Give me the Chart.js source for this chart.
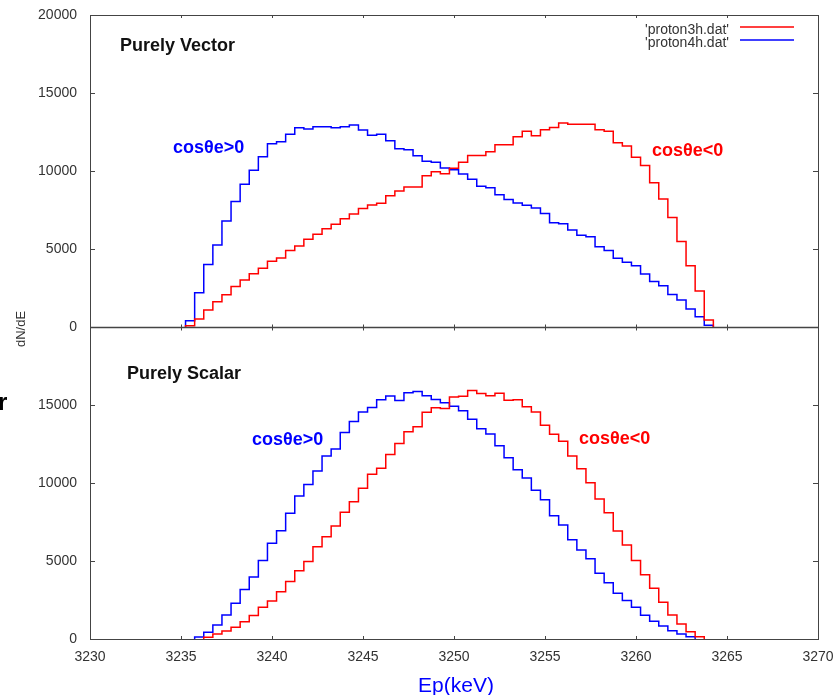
<!DOCTYPE html>
<html>
<head>
<meta charset="utf-8">
<script src="https://cdn.jsdelivr.net/npm/chart.js@4.4.0/dist/chart.umd.min.js"></script>
<style>
  html, body { margin: 0; padding: 0; background: #fff; }
  #wrap { position: relative; width: 838px; height: 695px; }
</style>
</head>
<body>
<div id="wrap"><canvas id="histChart" width="838" height="695"></canvas></div>
<script>
// histogram bins: left edge of first bin and width (keV)
const binStart = 3235.25;
const binWidth = 0.5;

const xTicks = [3230, 3235, 3240, 3245, 3250, 3255, 3260, 3265, 3270];
const yTicks = [0, 5000, 10000, 15000, 20000];

// top panel, "Purely Vector"
const vectorPos = [400, 2200, 4000, 5250, 6800, 8050, 9150, 10050, 10920, 11750,
  11880, 12350, 12780, 12690, 12840, 12840, 12780, 12840, 12950, 12630,
  12290, 12350, 11940, 11430, 11370, 10980, 10620, 10560, 10190, 10080,
  9800, 9470, 9020, 8930, 8480, 8180, 7950, 7800, 7630, 7270,
  6690, 6620, 6220, 5880, 5790, 5150, 4910, 4400, 4150, 3930,
  3400, 2910, 2650, 2090, 1730, 1150, 660, 110];
const vectorNeg = [80, 510, 1090, 1620, 2070, 2590, 3010, 3420, 3760, 4210,
  4420, 4910, 5190, 5620, 5940, 6300, 6580, 6940, 7240, 7590,
  7820, 7930, 8420, 8720, 8980, 8980, 9690, 9950, 9830, 10170,
  10560, 11000, 11000, 11230, 11690, 11690, 12200, 12550, 12260, 12640,
  12790, 13080, 13000, 13000, 13000, 12650, 12550, 11810, 11600, 10880,
  10350, 9240, 8200, 7020, 5480, 3930, 2300, 450];

// bottom panel, "Purely Scalar"
const scalarPos = [0, 130, 430, 900, 1540, 2290, 3180, 3970, 5040, 6130,
  6940, 8060, 9170, 9910, 10770, 11730, 12180, 13230, 13950, 14550,
  14840, 15340, 15580, 15290, 15790, 15870, 15590, 15350, 15150, 14920,
  14630, 14090, 13470, 13140, 12390, 11620, 10850, 10320, 9530, 8930,
  7900, 7310, 6370, 5700, 5150, 4210, 3610, 2930, 2460, 2030,
  1520, 1130, 830, 530, 320, 150, 0, 0];
const scalarNeg = [0, 0, 110, 320, 510, 750, 1110, 1500, 2030, 2440,
  3030, 3680, 4380, 4960, 5920, 6560, 7240, 8120, 8800, 9660,
  10560, 10940, 11820, 12540, 13290, 13600, 14530, 14830, 14780, 15520,
  15560, 15930, 15740, 15600, 15750, 15300, 15340, 14890, 14550, 13700,
  13120, 12670, 11730, 10920, 10020, 8970, 8100, 6920, 6030, 5040,
  4120, 3250, 2350, 1540, 960, 470, 150, 0];

const RED = '#ff0000';
const BLUE = '#0000ff';
const FONT = 'Liberation Sans, Arial, sans-serif';

// turn bin contents into points for a stepped line
function stepPoints(values) {
    const first = values.findIndex(v => v > 0);
    let last = values.length - 1;
    while (last > first && values[last] === 0) last--;
    const pts = [{ x: binStart + first * binWidth, y: 0 }];
    for (let i = first; i <= last; i++) {
        pts.push({ x: binStart + i * binWidth, y: values[i] });
    }
    pts.push({ x: binStart + (last + 1) * binWidth, y: 0 });
    return pts;
}

function histSet(label, values, color, axis) {
    return {
        label, data: stepPoints(values), yAxisID: axis,
        borderColor: color, borderWidth: 1.5, stepped: 'before',
        pointRadius: 0, fill: false
    };
}

function noPadding(s) {
    s.paddingTop = 0; s.paddingBottom = 0;
    s.paddingLeft = 0; s.paddingRight = 0;
}

function yScale(hideTop) {
    return {
        type: 'linear', position: 'left', stack: 'panels', stackWeight: 1,
        min: 0, max: 20000,
        afterBuildTicks: s => { s.ticks = yTicks.map(v => ({ value: v })); },
        afterFit: s => { s.width = 90; noPadding(s); },
        grid: { display: false, drawTicks: false },
        border: { display: false },
        ticks: {
            padding: 13, color: '#333', font: { family: FONT, size: 14 },
            callback: v => (hideTop && v === 20000) ? null : String(v)
        }
    };
}

// frame, mirrored ticks and the text labels
const decorations = {
    id: 'decorations',
    afterDraw(chart) {
        const { ctx, chartArea: a, scales } = chart;
        const x = scales.x, yv = scales.yVector, ys = scales.yScalar;
        const mid = Math.round(yv.bottom) + 0.5;
        ctx.save();
        ctx.strokeStyle = '#444';
        ctx.lineWidth = 1;
        ctx.strokeRect(Math.round(a.left) + 0.5, Math.round(a.top) + 0.5,
            Math.round(a.right - a.left), Math.round(a.bottom - a.top));
        ctx.lineWidth = 1.3;
        ctx.beginPath();
        ctx.moveTo(a.left, mid); ctx.lineTo(a.right, mid);
        ctx.stroke();
        ctx.lineWidth = 1;
        ctx.beginPath();
        for (const sc of [yv, ys]) {
            for (const v of yTicks) {
                const py = Math.round(sc.getPixelForValue(v)) + 0.5;
                ctx.moveTo(a.left, py); ctx.lineTo(a.left + 5, py);
                ctx.moveTo(a.right, py); ctx.lineTo(a.right - 5, py);
            }
        }
        for (const v of xTicks) {
            const px = Math.round(x.getPixelForValue(v)) + 0.5;
            ctx.moveTo(px, a.top); ctx.lineTo(px, a.top + 3);
            ctx.moveTo(px, mid - 3); ctx.lineTo(px, mid + 3);
            ctx.moveTo(px, a.bottom); ctx.lineTo(px, a.bottom - 3);
        }
        ctx.stroke();

        // panel titles
        ctx.fillStyle = '#111';
        ctx.textBaseline = 'alphabetic';
        ctx.textAlign = 'left';
        ctx.font = 'bold 18px ' + FONT;
        ctx.fillText('Purely Vector', 120, 51);
        ctx.fillText('Purely Scalar', 127, 379);

        ctx.font = 'bold 18px ' + FONT;
        ctx.fillStyle = BLUE;
        ctx.fillText('cosθe>0', 173, 153);
        ctx.fillText('cosθe>0', 252, 445);
        ctx.fillStyle = RED;
        ctx.fillText('cosθe<0', 652, 156);
        ctx.fillText('cosθe<0', 579, 444);

        // legend
        ctx.font = '14px ' + FONT;
        ctx.fillStyle = '#333';
        ctx.textAlign = 'right';
        ctx.textBaseline = 'middle';
        const legend = [["'proton3h.dat'", RED, 27], ["'proton4h.dat'", BLUE, 40]];
        for (const [txt, col, ly] of legend) {
            ctx.fillText(txt, 729, ly + 3);
            ctx.strokeStyle = col;
            ctx.lineWidth = 1.3;
            ctx.beginPath();
            ctx.moveTo(740, ly); ctx.lineTo(794, ly);
            ctx.stroke();
        }

        // axis titles
        ctx.fillStyle = BLUE;
        ctx.textAlign = 'center';
        ctx.textBaseline = 'alphabetic';
        ctx.font = '21px ' + FONT;
        ctx.fillText('Ep(keV)', 456, 692);

        ctx.fillStyle = '#333';
        ctx.font = '13px ' + FONT;
        ctx.translate(21, 329);
        ctx.rotate(-Math.PI / 2);
        ctx.textBaseline = 'middle';
        ctx.fillText('dN/dE', 0, 0);
        ctx.restore();

        // leftover letter at the image edge
        ctx.save();
        ctx.fillStyle = '#000';
        ctx.font = 'bold 24px ' + FONT;
        ctx.fillText('r', -2, 410);
        ctx.restore();
    }
};

function drawChart() {
    const ctx = document.getElementById('histChart').getContext('2d');
    new Chart(ctx, {
        type: 'line',
        data: {
            datasets: [
                histSet("'proton3h.dat'", vectorNeg, RED, 'yVector'),
                histSet("'proton4h.dat'", vectorPos, BLUE, 'yVector'),
                histSet("'proton3h.dat'", scalarNeg, RED, 'yScalar'),
                histSet("'proton4h.dat'", scalarPos, BLUE, 'yScalar')
            ]
        },
        options: {
            responsive: false,
            devicePixelRatio: 1,
            animation: false,
            layout: { padding: { top: 15, right: 20, left: 0, bottom: 0 } },
            plugins: { legend: { display: false }, tooltip: { enabled: false } },
            scales: {
                x: {
                    type: 'linear', position: 'bottom', min: 3230, max: 3270,
                    afterBuildTicks: s => { s.ticks = xTicks.map(v => ({ value: v })); },
                    afterFit: s => { s.height = 56; noPadding(s); },
                    grid: { display: false, drawTicks: false },
                    border: { display: false },
                    ticks: {
                        padding: 10, maxRotation: 0, color: '#333',
                        font: { family: FONT, size: 14 },
                        callback: v => String(v)
                    }
                },
                yScalar: yScale(true),
                yVector: yScale(false)
            }
        },
        plugins: [decorations]
    });
}

window.addEventListener('DOMContentLoaded', drawChart);
</script>
</body>
</html>
